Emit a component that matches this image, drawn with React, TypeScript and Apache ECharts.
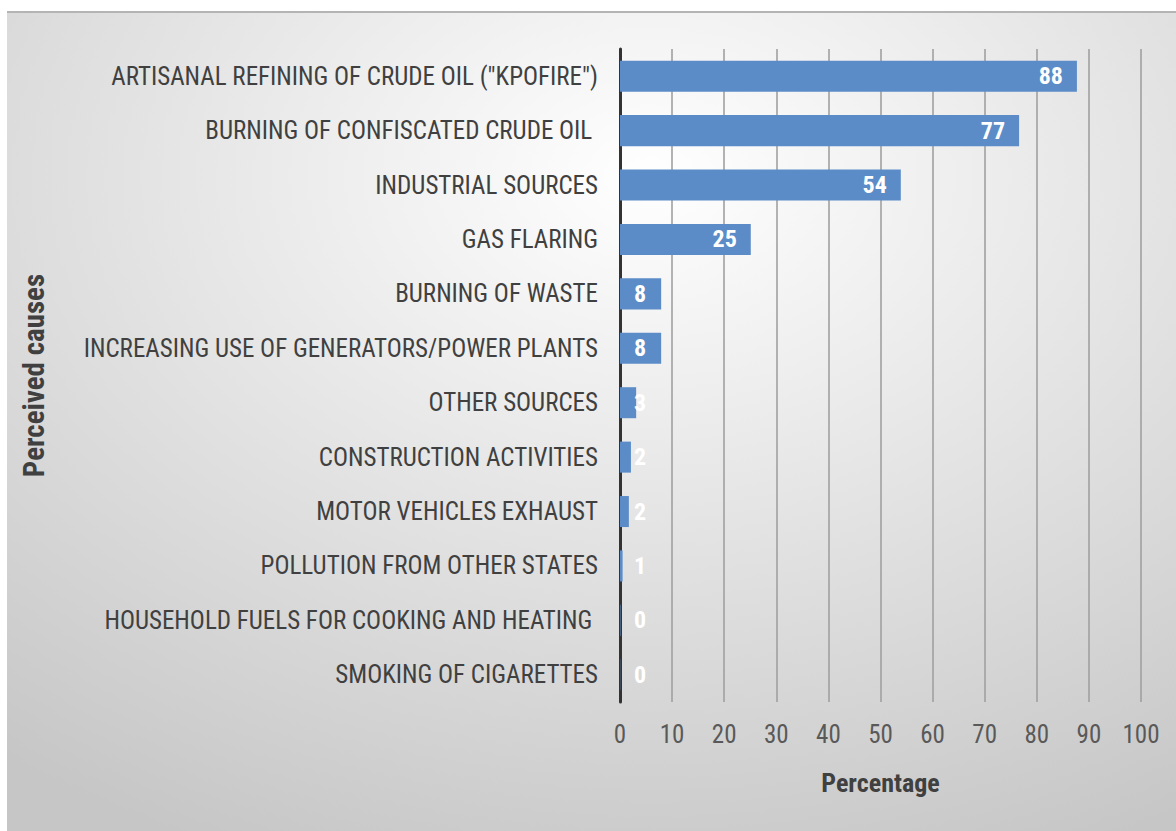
import React, { useEffect, useRef } from "react";
import * as echarts from "echarts";

const categories = [
  'ARTISANAL REFINING OF CRUDE OIL ("KPOFIRE")',
  "BURNING OF CONFISCATED CRUDE OIL ",
  "INDUSTRIAL SOURCES",
  "GAS FLARING",
  "BURNING OF WASTE",
  "INCREASING USE OF GENERATORS/POWER PLANTS",
  "OTHER SOURCES",
  "CONSTRUCTION ACTIVITIES",
  "MOTOR VEHICLES EXHAUST",
  "POLLUTION FROM OTHER STATES",
  "HOUSEHOLD FUELS FOR COOKING AND HEATING ",
  "SMOKING OF CIGARETTES",
];
const values = [87.7, 76.6, 53.9, 25.1, 7.9, 7.9, 3.1, 2.1, 1.7, 0.5, 0.1, 0.05];

const FONT = '"Roboto Condensed", "Liberation Sans Narrow", sans-serif';

export default function App() {
  const ref = useRef<HTMLDivElement>(null);
  useEffect(() => {
    if (!ref.current) return;
    const chart = echarts.init(ref.current, undefined, { renderer: "svg" });
    const cats = [...categories].reverse();
    const vals = [...values].reverse();
    chart.setOption({
      animation: false,
      backgroundColor: {
        type: "radial",
        x: 0.55,
        y: 0.2,
        r: 0.9,
        colorStops: [
          { offset: 0, color: "#ffffff" },
          { offset: 1, color: "#c6c6c6" },
        ],
      },
      grid: {
        left: 613,
        right: 35,
        top: 36,
        bottom: 129,
        containLabel: false,
        outerBoundsMode: "none",
      },
      xAxis: {
        type: "value",
        min: 0,
        max: 100,
        interval: 10,
        name: "Percentage",
        nameLocation: "middle",
        nameGap: 68,
        nameTextStyle: { fontFamily: FONT, fontSize: 26, fontWeight: "bold", color: "#404040" },
        axisLine: { show: false },
        axisTick: { show: false },
        axisLabel: { fontFamily: FONT, fontSize: 25, color: "#595959", margin: 20 },
        splitLine: { show: true, lineStyle: { color: "#a0a0a0", width: 1.6 } },
      },
      yAxis: {
        type: "category",
        data: cats,
        name: "Perceived causes",
        nameLocation: "middle",
        nameGap: 572,
        nameRotate: 90,
        nameTextStyle: { fontFamily: FONT, fontSize: 29, fontWeight: "bold", color: "#404040" },
        axisLine: { show: true, lineStyle: { color: "#333333", width: 3 } },
        axisTick: { show: false },
        axisLabel: { fontFamily: FONT, fontSize: 25, color: "#404040", margin: 22 },
        splitLine: { show: false },
      },
      series: [
        {
          type: "bar",
          data: vals.map((v) => ({
            value: v,
            label:
              v < 10
                ? { position: "insideLeft", distance: 14 }
                : { position: "insideRight", distance: 14 },
          })),
          barWidth: "57%",
          itemStyle: { color: "#5b8cc8" },
          label: {
            show: true,
            color: "#ffffff",
            fontFamily: FONT,
            fontSize: 24,
            fontWeight: "bold",
            formatter: (p: any) => String(Math.round(p.value)),
          },
        },
      ],
    });
    return () => chart.dispose();
  }, []);
  return (
    <div style={{ position: "fixed", left: 0, top: 0, width: 1176, height: 831, background: "#ffffff" }}>
      <div
        style={{
          position: "absolute",
          left: 7,
          top: 11,
          width: 1169,
          height: 820,
          borderTop: "2px solid #b4b4b4",
          boxSizing: "border-box",
        }}
      >
        <div ref={ref} style={{ width: 1169, height: 818 }} />
      </div>
    </div>
  );
}
